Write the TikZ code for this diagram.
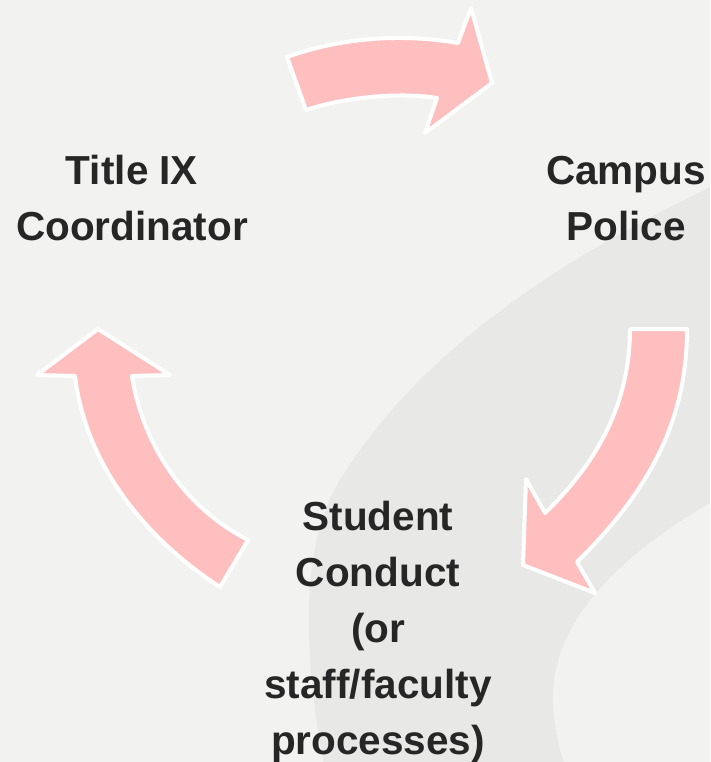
\documentclass[tikz,border=0pt]{standalone}
\usepackage{fontspec}
\setmainfont{Liberation Sans}
\definecolor{bglight}{RGB}{242,242,241}
\definecolor{bgdark}{RGB}{232,232,231}
\definecolor{arrowpink}{RGB}{255,191,191}
\definecolor{labeltext}{RGB}{38,38,38}
\tikzset{
  cyclearrow/.style={fill=arrowpink, draw=white, line width=4pt, line join=round},
  steplabel/.style={font=\bfseries\fontsize{40.5}{56}\selectfont, text=labeltext, align=center, inner sep=0pt, anchor=base}
}
\begin{document}
\begin{tikzpicture}[x=1pt,y=-1pt]
\useasboundingbox (0,0) rectangle (710,762);
\fill[bglight] (0,0) rectangle (710,762);
\begin{scope}
\clip (0,0) rectangle (710,762);
\fill[bgdark] (730,177) -- (710,187) .. controls (560,260) and (420,350) .. (340,480)
  .. controls (303,540) and (300,640) .. (325,770) -- (566,770)
  .. controls (558,745) and (552,720) .. (553,693)
  .. controls (555,620) and (620,555) .. (710,503) -- (730,490) -- cycle;
\end{scope}

% top arrow: Title IX -> Campus Police
\draw[cyclearrow] (287,57) -- (306,110) .. controls (345,97) and (400,92) .. (437,98)
  -- (425,133) -- (492,83) -- (471,8) -- (458,43)
  .. controls (400,33) and (340,38) .. (287,57) -- cycle;

% right arrow: Campus Police -> Student Conduct
\draw[cyclearrow] (630,329) -- (687,329) .. controls (687,420) and (650,490) .. (577,562)
  -- (595,593) -- (523,565) -- (526,479) -- (545,513)
  .. controls (600,460) and (630,400) .. (630,329) -- cycle;

% left arrow: Student Conduct -> Title IX
\draw[cyclearrow] (98,329) -- (170,375) -- (132,376)
  .. controls (142,440) and (180,505) .. (248,540)
  -- (220,587) .. controls (140,535) and (85,460) .. (75,376)
  -- (37,375) -- cycle;

% base anchor of a multi-line node = baseline of its last line
\node[steplabel] (title) at (132,240) {Title IX\\Coordinator};
\node[steplabel] (police) at (626,240) {Campus\\Police};
\node[steplabel] (conduct) at (378,754) {Student\\Conduct\\(or\\staff/faculty\\processes)};
\end{tikzpicture}
\end{document}
